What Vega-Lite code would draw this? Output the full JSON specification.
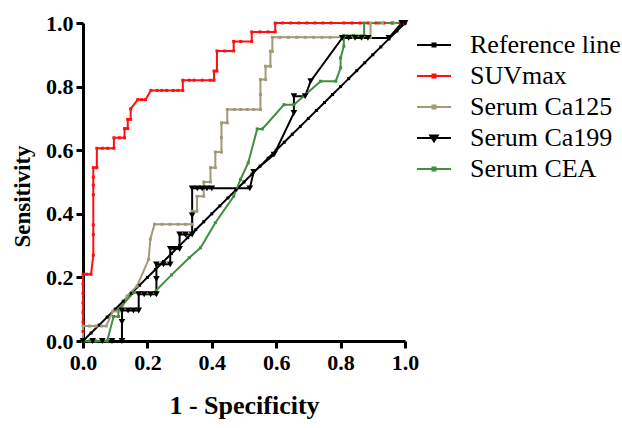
{
  "$schema": "https://vega.github.io/schema/vega-lite/v6.json",
  "width": 322,
  "height": 318,
  "autosize": {"type": "none"},
  "padding": {"left": 83, "top": 23, "right": 217, "bottom": 87},
  "background": "white",
  "config": {
    "view": {"stroke": null},
    "font": "Liberation Serif",
    "legend": {"labelFont": "Liberation Serif", "labelFontSize": 26, "labelColor": "black"},
    "axis": {
      "grid": false,
      "domainColor": "black", "domainWidth": 3,
      "tickColor": "black", "tickWidth": 3, "tickSize": 7,
      "labelFont": "Liberation Serif", "labelFontWeight": "bold", "labelFontSize": 22, "labelColor": "black",
      "titleFont": "Liberation Serif", "titleFontWeight": "bold", "titleColor": "black",
      "labelFlush": false
    }
  },
  "data": {"values": [
    {"s":"Reference line","x":0,"y":0},{"s":"Reference line","x":0.025,"y":0.025},{"s":"Reference line","x":0.05,"y":0.05},{"s":"Reference line","x":0.075,"y":0.075},{"s":"Reference line","x":0.1,"y":0.1},{"s":"Reference line","x":0.125,"y":0.125},{"s":"Reference line","x":0.15,"y":0.15},{"s":"Reference line","x":0.175,"y":0.175},{"s":"Reference line","x":0.2,"y":0.2},{"s":"Reference line","x":0.225,"y":0.225},{"s":"Reference line","x":0.25,"y":0.25},{"s":"Reference line","x":0.275,"y":0.275},{"s":"Reference line","x":0.3,"y":0.3},{"s":"Reference line","x":0.325,"y":0.325},{"s":"Reference line","x":0.35,"y":0.35},{"s":"Reference line","x":0.375,"y":0.375},{"s":"Reference line","x":0.4,"y":0.4},{"s":"Reference line","x":0.425,"y":0.425},{"s":"Reference line","x":0.45,"y":0.45},{"s":"Reference line","x":0.475,"y":0.475},{"s":"Reference line","x":0.5,"y":0.5},{"s":"Reference line","x":0.525,"y":0.525},{"s":"Reference line","x":0.55,"y":0.55},{"s":"Reference line","x":0.575,"y":0.575},{"s":"Reference line","x":0.6,"y":0.6},{"s":"Reference line","x":0.625,"y":0.625},{"s":"Reference line","x":0.65,"y":0.65},{"s":"Reference line","x":0.675,"y":0.675},{"s":"Reference line","x":0.7,"y":0.7},{"s":"Reference line","x":0.725,"y":0.725},{"s":"Reference line","x":0.75,"y":0.75},{"s":"Reference line","x":0.775,"y":0.775},{"s":"Reference line","x":0.8,"y":0.8},{"s":"Reference line","x":0.825,"y":0.825},{"s":"Reference line","x":0.85,"y":0.85},{"s":"Reference line","x":0.875,"y":0.875},{"s":"Reference line","x":0.9,"y":0.9},{"s":"Reference line","x":0.925,"y":0.925},{"s":"Reference line","x":0.95,"y":0.95},{"s":"Reference line","x":0.975,"y":0.975},{"s":"Reference line","x":1,"y":1},

    {"s":"SUVmax","x":0,"y":0},{"s":"SUVmax","x":0,"y":0.03},{"s":"SUVmax","x":0,"y":0.06},{"s":"SUVmax","x":0,"y":0.09},{"s":"SUVmax","x":0,"y":0.12},{"s":"SUVmax","x":0,"y":0.15},{"s":"SUVmax","x":0,"y":0.18},{"s":"SUVmax","x":0,"y":0.21},{"s":"SUVmax","x":0.012,"y":0.21},{"s":"SUVmax","x":0.025,"y":0.21},{"s":"SUVmax","x":0.032,"y":0.27},{"s":"SUVmax","x":0.032,"y":0.335},{"s":"SUVmax","x":0.032,"y":0.365},{"s":"SUVmax","x":0.032,"y":0.46},{"s":"SUVmax","x":0.032,"y":0.49},{"s":"SUVmax","x":0.032,"y":0.515},{"s":"SUVmax","x":0.032,"y":0.545},{"s":"SUVmax","x":0.043,"y":0.545},{"s":"SUVmax","x":0.043,"y":0.606},{"s":"SUVmax","x":0.06,"y":0.606},{"s":"SUVmax","x":0.077,"y":0.606},{"s":"SUVmax","x":0.096,"y":0.606},{"s":"SUVmax","x":0.096,"y":0.639},{"s":"SUVmax","x":0.113,"y":0.639},{"s":"SUVmax","x":0.129,"y":0.639},{"s":"SUVmax","x":0.129,"y":0.668},{"s":"SUVmax","x":0.139,"y":0.668},{"s":"SUVmax","x":0.139,"y":0.697},{"s":"SUVmax","x":0.148,"y":0.697},{"s":"SUVmax","x":0.148,"y":0.73},{"s":"SUVmax","x":0.17,"y":0.759},{"s":"SUVmax","x":0.182,"y":0.759},{"s":"SUVmax","x":0.194,"y":0.759},{"s":"SUVmax","x":0.211,"y":0.788},{"s":"SUVmax","x":0.23,"y":0.788},{"s":"SUVmax","x":0.245,"y":0.788},{"s":"SUVmax","x":0.26,"y":0.788},{"s":"SUVmax","x":0.28,"y":0.788},{"s":"SUVmax","x":0.295,"y":0.788},{"s":"SUVmax","x":0.31,"y":0.788},{"s":"SUVmax","x":0.31,"y":0.82},{"s":"SUVmax","x":0.33,"y":0.82},{"s":"SUVmax","x":0.345,"y":0.82},{"s":"SUVmax","x":0.37,"y":0.82},{"s":"SUVmax","x":0.395,"y":0.82},{"s":"SUVmax","x":0.407,"y":0.82},{"s":"SUVmax","x":0.407,"y":0.849},{"s":"SUVmax","x":0.416,"y":0.849},{"s":"SUVmax","x":0.416,"y":0.912},{"s":"SUVmax","x":0.44,"y":0.912},{"s":"SUVmax","x":0.468,"y":0.912},{"s":"SUVmax","x":0.468,"y":0.942},{"s":"SUVmax","x":0.49,"y":0.942},{"s":"SUVmax","x":0.524,"y":0.942},{"s":"SUVmax","x":0.524,"y":0.972},{"s":"SUVmax","x":0.55,"y":0.972},{"s":"SUVmax","x":0.575,"y":0.972},{"s":"SUVmax","x":0.597,"y":0.972},{"s":"SUVmax","x":0.597,"y":1},{"s":"SUVmax","x":0.62,"y":1},{"s":"SUVmax","x":0.645,"y":1},{"s":"SUVmax","x":0.67,"y":1},{"s":"SUVmax","x":0.695,"y":1},{"s":"SUVmax","x":0.72,"y":1},{"s":"SUVmax","x":0.745,"y":1},{"s":"SUVmax","x":0.77,"y":1},{"s":"SUVmax","x":0.81,"y":1},{"s":"SUVmax","x":0.835,"y":1},{"s":"SUVmax","x":0.86,"y":1},{"s":"SUVmax","x":0.885,"y":1},{"s":"SUVmax","x":0.91,"y":1},{"s":"SUVmax","x":0.935,"y":1},{"s":"SUVmax","x":0.96,"y":1},{"s":"SUVmax","x":0.985,"y":1},{"s":"SUVmax","x":1,"y":1},

    {"s":"Serum Ca125","x":0,"y":0},{"s":"Serum Ca125","x":0,"y":0.047},{"s":"Serum Ca125","x":0.02,"y":0.047},{"s":"Serum Ca125","x":0.04,"y":0.047},{"s":"Serum Ca125","x":0.058,"y":0.047},{"s":"Serum Ca125","x":0.072,"y":0.047},{"s":"Serum Ca125","x":0.093,"y":0.094},{"s":"Serum Ca125","x":0.105,"y":0.094},{"s":"Serum Ca125","x":0.117,"y":0.094},{"s":"Serum Ca125","x":0.137,"y":0.141},{"s":"Serum Ca125","x":0.168,"y":0.173},{"s":"Serum Ca125","x":0.204,"y":0.257},{"s":"Serum Ca125","x":0.209,"y":0.32},{"s":"Serum Ca125","x":0.222,"y":0.367},{"s":"Serum Ca125","x":0.245,"y":0.367},{"s":"Serum Ca125","x":0.27,"y":0.367},{"s":"Serum Ca125","x":0.295,"y":0.367},{"s":"Serum Ca125","x":0.318,"y":0.367},{"s":"Serum Ca125","x":0.339,"y":0.367},{"s":"Serum Ca125","x":0.339,"y":0.408},{"s":"Serum Ca125","x":0.354,"y":0.408},{"s":"Serum Ca125","x":0.354,"y":0.455},{"s":"Serum Ca125","x":0.375,"y":0.455},{"s":"Serum Ca125","x":0.375,"y":0.5},{"s":"Serum Ca125","x":0.396,"y":0.5},{"s":"Serum Ca125","x":0.396,"y":0.545},{"s":"Serum Ca125","x":0.411,"y":0.545},{"s":"Serum Ca125","x":0.411,"y":0.594},{"s":"Serum Ca125","x":0.43,"y":0.594},{"s":"Serum Ca125","x":0.43,"y":0.64},{"s":"Serum Ca125","x":0.43,"y":0.686},{"s":"Serum Ca125","x":0.448,"y":0.686},{"s":"Serum Ca125","x":0.448,"y":0.728},{"s":"Serum Ca125","x":0.47,"y":0.728},{"s":"Serum Ca125","x":0.49,"y":0.728},{"s":"Serum Ca125","x":0.51,"y":0.728},{"s":"Serum Ca125","x":0.53,"y":0.728},{"s":"Serum Ca125","x":0.551,"y":0.728},{"s":"Serum Ca125","x":0.551,"y":0.775},{"s":"Serum Ca125","x":0.551,"y":0.822},{"s":"Serum Ca125","x":0.567,"y":0.822},{"s":"Serum Ca125","x":0.567,"y":0.864},{"s":"Serum Ca125","x":0.582,"y":0.864},{"s":"Serum Ca125","x":0.582,"y":0.911},{"s":"Serum Ca125","x":0.588,"y":0.911},{"s":"Serum Ca125","x":0.588,"y":0.955},{"s":"Serum Ca125","x":0.612,"y":0.955},{"s":"Serum Ca125","x":0.638,"y":0.955},{"s":"Serum Ca125","x":0.664,"y":0.955},{"s":"Serum Ca125","x":0.69,"y":0.955},{"s":"Serum Ca125","x":0.716,"y":0.955},{"s":"Serum Ca125","x":0.742,"y":0.955},{"s":"Serum Ca125","x":0.768,"y":0.955},{"s":"Serum Ca125","x":0.805,"y":0.955},{"s":"Serum Ca125","x":0.84,"y":0.955},{"s":"Serum Ca125","x":0.868,"y":0.955},{"s":"Serum Ca125","x":0.893,"y":0.955},{"s":"Serum Ca125","x":0.893,"y":1},{"s":"Serum Ca125","x":0.93,"y":1},{"s":"Serum Ca125","x":0.965,"y":1},{"s":"Serum Ca125","x":1,"y":1},

    {"s":"Serum Ca199","x":0,"y":0},{"s":"Serum Ca199","x":0.03,"y":0},{"s":"Serum Ca199","x":0.06,"y":0},{"s":"Serum Ca199","x":0.09,"y":0},{"s":"Serum Ca199","x":0.121,"y":0},{"s":"Serum Ca199","x":0.121,"y":0.06},{"s":"Serum Ca199","x":0.121,"y":0.096},{"s":"Serum Ca199","x":0.14,"y":0.096},{"s":"Serum Ca199","x":0.157,"y":0.096},{"s":"Serum Ca199","x":0.173,"y":0.096},{"s":"Serum Ca199","x":0.173,"y":0.147},{"s":"Serum Ca199","x":0.19,"y":0.147},{"s":"Serum Ca199","x":0.21,"y":0.147},{"s":"Serum Ca199","x":0.228,"y":0.147},{"s":"Serum Ca199","x":0.228,"y":0.195},{"s":"Serum Ca199","x":0.228,"y":0.241},{"s":"Serum Ca199","x":0.25,"y":0.241},{"s":"Serum Ca199","x":0.271,"y":0.241},{"s":"Serum Ca199","x":0.271,"y":0.29},{"s":"Serum Ca199","x":0.285,"y":0.29},{"s":"Serum Ca199","x":0.3,"y":0.29},{"s":"Serum Ca199","x":0.3,"y":0.335},{"s":"Serum Ca199","x":0.318,"y":0.335},{"s":"Serum Ca199","x":0.339,"y":0.335},{"s":"Serum Ca199","x":0.339,"y":0.395},{"s":"Serum Ca199","x":0.339,"y":0.48},{"s":"Serum Ca199","x":0.355,"y":0.48},{"s":"Serum Ca199","x":0.37,"y":0.48},{"s":"Serum Ca199","x":0.385,"y":0.48},{"s":"Serum Ca199","x":0.4,"y":0.48},{"s":"Serum Ca199","x":0.518,"y":0.48},{"s":"Serum Ca199","x":0.53,"y":0.532},{"s":"Serum Ca199","x":0.593,"y":0.586},{"s":"Serum Ca199","x":0.655,"y":0.717},{"s":"Serum Ca199","x":0.655,"y":0.77},{"s":"Serum Ca199","x":0.69,"y":0.77},{"s":"Serum Ca199","x":0.707,"y":0.817},{"s":"Serum Ca199","x":0.805,"y":0.953},{"s":"Serum Ca199","x":0.825,"y":0.953},{"s":"Serum Ca199","x":0.845,"y":0.953},{"s":"Serum Ca199","x":0.865,"y":0.953},{"s":"Serum Ca199","x":0.885,"y":0.953},{"s":"Serum Ca199","x":0.95,"y":0.953},{"s":"Serum Ca199","x":0.99,"y":1},{"s":"Serum Ca199","x":1,"y":1},

    {"s":"Serum CEA","x":0,"y":0},{"s":"Serum CEA","x":0.02,"y":0},{"s":"Serum CEA","x":0.04,"y":0},{"s":"Serum CEA","x":0.06,"y":0},{"s":"Serum CEA","x":0.075,"y":0},{"s":"Serum CEA","x":0.095,"y":0.077},{"s":"Serum CEA","x":0.11,"y":0.077},{"s":"Serum CEA","x":0.11,"y":0.1},{"s":"Serum CEA","x":0.157,"y":0.152},{"s":"Serum CEA","x":0.18,"y":0.152},{"s":"Serum CEA","x":0.2,"y":0.152},{"s":"Serum CEA","x":0.22,"y":0.152},{"s":"Serum CEA","x":0.275,"y":0.208},{"s":"Serum CEA","x":0.33,"y":0.262},{"s":"Serum CEA","x":0.365,"y":0.293},{"s":"Serum CEA","x":0.411,"y":0.372},{"s":"Serum CEA","x":0.468,"y":0.455},{"s":"Serum CEA","x":0.489,"y":0.508},{"s":"Serum CEA","x":0.513,"y":0.56},{"s":"Serum CEA","x":0.541,"y":0.667},{"s":"Serum CEA","x":0.557,"y":0.667},{"s":"Serum CEA","x":0.624,"y":0.743},{"s":"Serum CEA","x":0.655,"y":0.743},{"s":"Serum CEA","x":0.738,"y":0.817},{"s":"Serum CEA","x":0.785,"y":0.817},{"s":"Serum CEA","x":0.8,"y":0.859},{"s":"Serum CEA","x":0.8,"y":0.89},{"s":"Serum CEA","x":0.81,"y":0.927},{"s":"Serum CEA","x":0.81,"y":0.961},{"s":"Serum CEA","x":0.84,"y":0.961},{"s":"Serum CEA","x":0.873,"y":0.961},{"s":"Serum CEA","x":0.873,"y":1},{"s":"Serum CEA","x":0.92,"y":1},{"s":"Serum CEA","x":0.96,"y":1},{"s":"Serum CEA","x":1,"y":1}
  ]},
  "encoding": {
    "x": {"field": "x", "type": "quantitative", "scale": {"domain": [0, 1], "nice": false, "zero": false},
      "axis": {"values": [0, 0.2, 0.4, 0.6, 0.8, 1], "format": ".1f", "title": "1 - Specificity", "titleFontSize": 26, "labelPadding": 4, "titlePadding": 19}},
    "y": {"field": "y", "type": "quantitative", "scale": {"domain": [0, 1], "nice": false, "zero": false},
      "axis": {"values": [0, 0.2, 0.4, 0.6, 0.8, 1], "format": ".1f", "title": "Sensitivity", "titleFontSize": 23, "labelPadding": 3, "titlePadding": 11, "titleY": 173}},
    "color": {"field": "s", "type": "nominal",
      "scale": {"domain": ["Reference line", "SUVmax", "Serum Ca125", "Serum Ca199", "Serum CEA"], "range": ["#000000", "#ff1010", "#a09a7a", "#000000", "#3f8f3f"]},
      "legend": {
        "title": null, "orient": "none", "legendX": 333, "legendY": 4, "padding": 0,
        "symbolSize": 1156, "rowPadding": 0, "labelOffset": 18,
        "labelFont": "Liberation Serif", "labelFontSize": 26, "labelFontWeight": "normal", "labelColor": "black", "labelLimit": 600,
        "encode": {
          "labels": {"update": {"font": {"value": "Liberation Serif"}, "fontSize": {"value": 26}}},
          "symbols": {"update": {
          "shape": {"signal": "datum.value === 'Serum Ca199' ? 'M-1,0L1,0M-0.22,-0.15L0.22,-0.15L0,0.2Z' : 'M-1,0L1,0M-0.09,-0.09L0.09,-0.09L0.09,0.09L-0.09,0.09Z'"},
          "fill": {"scale": "color", "field": "value"},
          "stroke": {"scale": "color", "field": "value"},
          "strokeWidth": {"value": 2},
          "opacity": {"value": 1},
          "fillOpacity": {"value": 1},
          "strokeOpacity": {"value": 1}
        }}}
      }}
  },
  "layer": [
    {"mark": {"type": "line", "strokeWidth": 2}, "encoding": {"order": {"value": null}}},
    {"transform": [{"filter": "datum.s !== 'Serum Ca199'"}], "mark": {"type": "point", "shape": "square", "filled": true, "size": 9, "opacity": 1}},
    {"transform": [{"filter": "datum.s === 'Serum Ca199'"}], "mark": {"type": "point", "shape": "triangle-down", "filled": true, "size": 45, "opacity": 1}}
  ]
}
